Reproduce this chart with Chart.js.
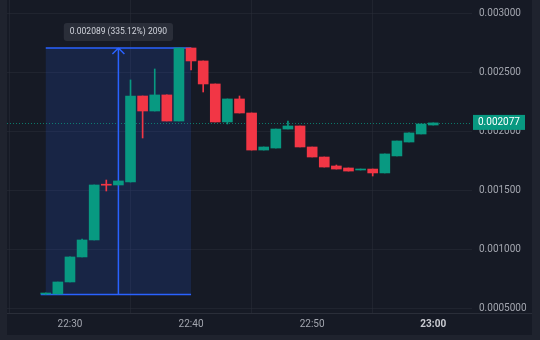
<!DOCTYPE html>
<html>
<head>
<meta charset="utf-8">
<script src="https://cdn.jsdelivr.net/npm/chart.js@4.4.1/dist/chart.umd.min.js"></script>
<style>
  html, body { margin: 0; padding: 0; background: #1f232e; }
</style>
</head>
<body>
<canvas id="candles" width="540" height="340"></canvas>
<script>
// 1-minute candles, x = minutes after 22:00
const minutes = [28, 29, 30, 31, 32, 33, 34, 35, 36, 37, 38, 39, 40, 41, 42, 43, 44,
    45, 46, 47, 48, 49, 50, 51, 52, 53, 54, 55, 56, 57, 58, 59, 60];
const opens = [0.000627, 0.000627, 0.000729, 0.000941, 0.001085, 0.001551, 0.001551, 0.001576,
    0.002305, 0.002178, 0.002314, 0.002093, 0.002712, 0.002602, 0.002407, 0.002085, 0.002280,
    0.002161, 0.001847, 0.001864, 0.002025, 0.002051, 0.001873, 0.001788, 0.001712, 0.001695,
    0.001678, 0.001686, 0.001653, 0.001797, 0.001915, 0.001983, 0.002059];
const highs = [0.000636, 0.000729, 0.000941, 0.001093, 0.001551, 0.001593, 0.001585, 0.002441,
    0.002305, 0.002534, 0.002314, 0.002712, 0.002712, 0.002602, 0.002407, 0.002280, 0.002305,
    0.002161, 0.001873, 0.002025, 0.002093, 0.002051, 0.001873, 0.001788, 0.001720, 0.001695,
    0.001686, 0.001686, 0.001814, 0.001924, 0.001992, 0.002068, 0.002077];
const lows = [0.000623, 0.000627, 0.000729, 0.000941, 0.001085, 0.001500, 0.001551, 0.001576,
    0.001949, 0.002178, 0.002093, 0.002093, 0.002525, 0.002339, 0.002085, 0.002068, 0.002161,
    0.001847, 0.001847, 0.001864, 0.002025, 0.001873, 0.001788, 0.001703, 0.001686, 0.001669,
    0.001678, 0.001627, 0.001653, 0.001797, 0.001915, 0.001983, 0.002059];
const closes = [0.000634, 0.000729, 0.000941, 0.001085, 0.001551, 0.001549, 0.001585, 0.002305,
    0.002178, 0.002314, 0.002093, 0.002712, 0.002602, 0.002407, 0.002085, 0.002280, 0.002161,
    0.001847, 0.001873, 0.002025, 0.002051, 0.001873, 0.001788, 0.001703, 0.001686, 0.001669,
    0.001686, 0.001653, 0.001814, 0.001924, 0.001992, 0.002068, 0.002077];

const timeTicks = [30, 40, 50, 60];
const priceTicks = [0.0005, 0.001, 0.0015, 0.002, 0.0025, 0.003];
const priceLabels = ['0.0005000', '0.001000', '0.001500', '0.002000', '0.002500', '0.003000'];

// price range measurement drawn over the chart
const measureFrom = 28;
const measureTo = 40;
const measureLow = 0.000623;
const measureHigh = 0.002712;
const measureText = '0.002089 (335.12%) 2090';
const lastPrice = 0.002077;

const upColor = '#089981';
const downColor = '#f23645';
const textColor = '#a3a6af';
const gridColor = 'rgba(42, 46, 57, 0.55)';

const candleColors = opens.map((o, i) => closes[i] >= o ? upColor : downColor);

const overlay = {
    id: 'overlay',
    beforeDraw(chart) {
        const ctx = chart.ctx;
        ctx.save();
        ctx.fillStyle = '#161a25';
        ctx.fillRect(7, 0, 525, 335);
        ctx.restore();
    },
    beforeDatasetsDraw(chart) {
        const { ctx, chartArea, scales: { x, y } } = chart;
        const l = x.getPixelForValue(measureFrom);
        const r = x.getPixelForValue(measureTo);
        const t = y.getPixelForValue(measureHigh);
        const b = y.getPixelForValue(measureLow);
        const mid = (l + r) / 2;
        ctx.save();
        ctx.fillStyle = 'rgba(41, 98, 255, 0.15)';
        ctx.fillRect(l, t, r - l, b - t);

        // last price line
        const py = Math.round(y.getPixelForValue(lastPrice)) + 0.5;
        ctx.strokeStyle = 'rgba(8, 153, 129, 0.75)';
        ctx.lineWidth = 1;
        ctx.setLineDash([1, 2]);
        ctx.beginPath();
        ctx.moveTo(chartArea.left, py);
        ctx.lineTo(chartArea.right, py);
        ctx.stroke();
        ctx.setLineDash([]);

        ctx.strokeStyle = '#2962ff';
        ctx.lineWidth = 1.5;
        ctx.beginPath();
        ctx.moveTo(l, t);
        ctx.lineTo(r, t);
        ctx.moveTo(l - 5, b);
        ctx.lineTo(r, b);
        ctx.moveTo(mid, b);
        ctx.lineTo(mid, t + 1);
        ctx.moveTo(mid - 6, t + 6);
        ctx.lineTo(mid, t);
        ctx.lineTo(mid + 6, t + 6);
        ctx.stroke();
        ctx.restore();
    },
    afterDraw(chart) {
        const { ctx, chartArea, scales: { x, y } } = chart;
        const l = x.getPixelForValue(measureFrom);
        const r = x.getPixelForValue(measureTo);
        const t = y.getPixelForValue(measureHigh);
        const mid = (l + r) / 2;
        ctx.save();

        // time axis separator runs under the price axis too
        ctx.strokeStyle = '#2a2e39';
        ctx.lineWidth = 1;
        ctx.beginPath();
        ctx.moveTo(chartArea.right, chartArea.bottom + 0.5);
        ctx.lineTo(532, chartArea.bottom + 0.5);
        ctx.stroke();

        ctx.font = '8.5px Roboto';
        const w = ctx.measureText(measureText).width + 12;
        ctx.fillStyle = '#2a2e39';
        ctx.beginPath();
        ctx.roundRect(mid - w / 2, t - 25, w, 18, 3);
        ctx.fill();
        ctx.fillStyle = '#d1d4dc';
        ctx.textAlign = 'center';
        ctx.textBaseline = 'middle';
        ctx.fillText(measureText, mid, t - 16);

        // price tag on the axis
        const py = y.getPixelForValue(lastPrice);
        ctx.fillStyle = upColor;
        ctx.fillRect(chartArea.right + 1, py - 8, 52, 15);
        ctx.fillStyle = '#ffffff';
        ctx.font = '10px Roboto';
        ctx.textAlign = 'left';
        ctx.fillText(lastPrice.toFixed(6), chartArea.right + 6, py);
        ctx.restore();
    }
};

const candleConfig = {
    type: 'bar',
    data: {
        datasets: [{
            label: 'body',
            data: minutes.map((m, i) => ({ x: m, y: [opens[i], closes[i]] })),
            backgroundColor: candleColors,
            barThickness: 10,
            minBarLength: 1,
            grouped: false,
            order: 1
        }, {
            label: 'wick',
            data: minutes.map((m, i) => ({ x: m, y: [lows[i], highs[i]] })),
            backgroundColor: candleColors,
            barThickness: 1,
            grouped: false,
            order: 2
        }]
    },
    options: {
        responsive: false,
        animation: false,
        layout: { padding: { left: 7, right: 8, top: 0, bottom: 5 } },
        plugins: {
            legend: { display: false },
            tooltip: { enabled: false }
        },
        scales: {
            x: {
                type: 'linear',
                min: 24.8,
                max: 63.2,
                offset: false,
                afterBuildTicks: (scale) => { scale.ticks = timeTicks.map(v => ({ value: v })); },
                afterFit: (scale) => { scale.height = 22; },
                grid: { color: gridColor, drawTicks: false },
                border: { display: true, color: '#2a2e39' },
                ticks: {
                    padding: 5,
                    maxRotation: 0,
                    color: (c) => c.tick && c.tick.value % 60 === 0 ? '#c8cad0' : textColor,
                    font: (c) => ({
                        family: 'Roboto',
                        size: 10,
                        weight: c.tick && c.tick.value % 60 === 0 ? 'bold' : 'normal'
                    }),
                    callback: (v) => (22 + Math.floor(v / 60)) + ':' + String(v % 60).padStart(2, '0')
                }
            },
            y: {
                position: 'right',
                min: 0.000466,
                max: 0.0031186,
                afterBuildTicks: (scale) => { scale.ticks = priceTicks.map(v => ({ value: v })); },
                afterFit: (scale) => {
                    scale.width = 60;
                    scale.paddingTop = 0;
                    scale.paddingBottom = 0;
                },
                grid: { color: gridColor, drawTicks: false },
                border: { display: false },
                ticks: {
                    padding: 7,
                    color: textColor,
                    font: { family: 'Roboto', size: 10 },
                    callback: (v, i) => priceLabels[i]
                }
            }
        }
    },
    plugins: [overlay]
};

const candleChart = new Chart(
    document.getElementById('candles'),
    candleConfig
);
</script>
</body>
</html>
